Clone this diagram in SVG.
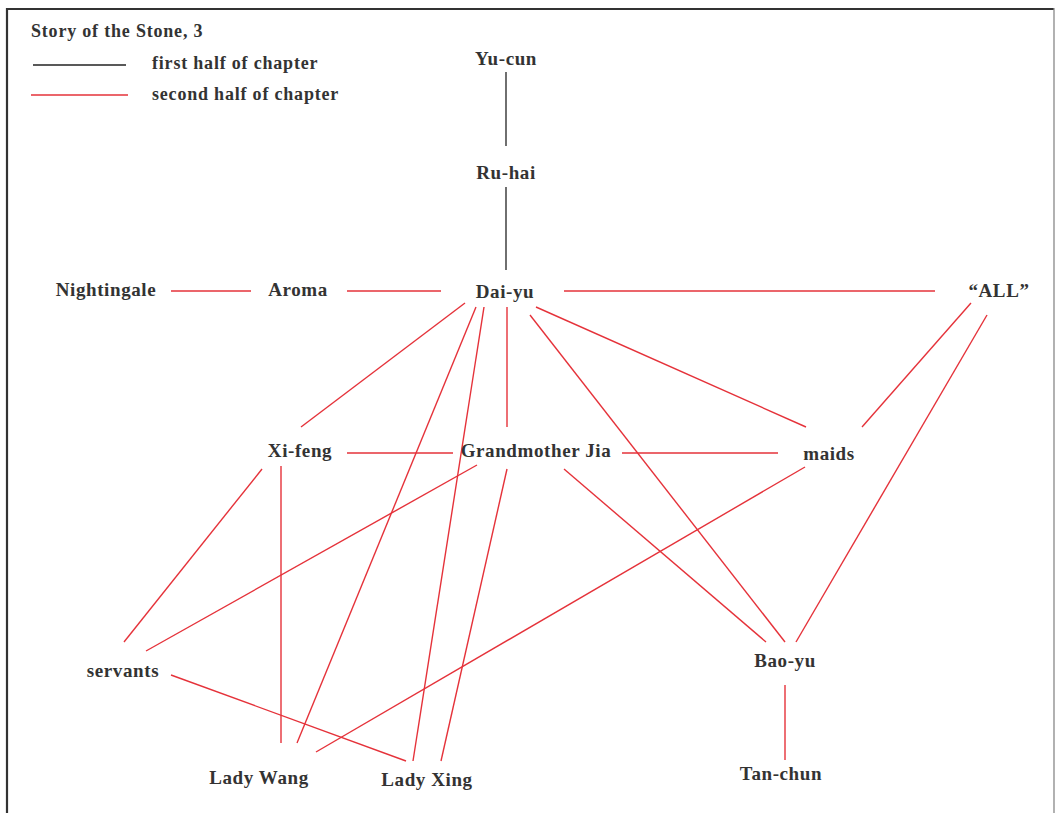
<svg xmlns="http://www.w3.org/2000/svg" width="1057" height="813" viewBox="0 0 1057 813">
<style>
text{font-family:"Liberation Serif","Times New Roman",serif;font-weight:bold;fill:#333}
.lbl{font-size:19px;text-anchor:middle;letter-spacing:0.6px}
.leg{font-size:18px;letter-spacing:0.8px}
.r{stroke:#e5323a;stroke-width:1.4;fill:none}
.k{stroke:#222;stroke-width:1.3;fill:none}
</style>
<rect width="1057" height="813" fill="#fff"/>
<g id="frame">
<line x1="7" y1="9" x2="1054" y2="9" stroke="#333" stroke-width="2.2"/>
<line x1="7" y1="8" x2="7" y2="813" stroke="#333" stroke-width="2.2"/>
<line x1="1054" y1="8" x2="1054" y2="813" stroke="#888" stroke-width="1.3"/>
</g>
<g id="legend">
<text class="leg" x="31" y="37">Story of the Stone, 3</text>
<line class="k" x1="33" y1="65" x2="126" y2="65"/>
<text class="leg" x="152" y="69">first half of chapter</text>
<line class="r" x1="31" y1="95" x2="128" y2="95"/>
<text class="leg" x="152" y="100">second half of chapter</text>
</g>
<g id="connectors">
<line class="k" x1="506" y1="72" x2="506" y2="146"/>
<line class="k" x1="506" y1="187" x2="506" y2="270"/>
<line class="r" x1="171" y1="291" x2="251" y2="291"/>
<line class="r" x1="347" y1="291" x2="441" y2="291"/>
<line class="r" x1="564" y1="291" x2="935" y2="291"/>
<line class="r" x1="465" y1="303" x2="301" y2="427"/>
<line class="r" x1="476" y1="307" x2="297" y2="743"/>
<line class="r" x1="484" y1="307" x2="413" y2="761"/>
<line class="r" x1="507" y1="307" x2="507" y2="427"/>
<line class="r" x1="536" y1="307" x2="806" y2="427"/>
<line class="r" x1="530" y1="315" x2="785" y2="642"/>
<line class="r" x1="971" y1="303" x2="862" y2="427"/>
<line class="r" x1="987" y1="315" x2="796" y2="642"/>
<line class="r" x1="347" y1="453" x2="453" y2="453"/>
<line class="r" x1="622" y1="453" x2="778" y2="453"/>
<line class="r" x1="262" y1="469" x2="124" y2="642"/>
<line class="r" x1="281" y1="466" x2="281" y2="743"/>
<line class="r" x1="477" y1="465" x2="146" y2="651"/>
<line class="r" x1="507" y1="469" x2="441" y2="761"/>
<line class="r" x1="564" y1="469" x2="766" y2="642"/>
<line class="r" x1="805" y1="467" x2="316" y2="752"/>
<line class="r" x1="171" y1="675" x2="406" y2="761"/>
<line class="r" x1="785" y1="685" x2="785" y2="760"/>
</g>
<g id="yu-cun"><text class="lbl" x="506" y="65">Yu-cun</text></g>
<g id="ru-hai"><text class="lbl" x="506" y="179">Ru-hai</text></g>
<g id="nightingale"><text class="lbl" x="106" y="296">Nightingale</text></g>
<g id="aroma"><text class="lbl" x="298" y="296">Aroma</text></g>
<g id="dai-yu"><text class="lbl" x="505" y="298">Dai-yu</text></g>
<g id="all"><text class="lbl" x="999" y="297">“ALL”</text></g>
<g id="xi-feng"><text class="lbl" x="300" y="457">Xi-feng</text></g>
<g id="grandmother-jia"><text class="lbl" x="536" y="457">Grandmother Jia</text></g>
<g id="maids"><text class="lbl" x="829" y="460">maids</text></g>
<g id="servants"><text class="lbl" x="123" y="677">servants</text></g>
<g id="bao-yu"><text class="lbl" x="785" y="667">Bao-yu</text></g>
<g id="tan-chun"><text class="lbl" x="781" y="780">Tan-chun</text></g>
<g id="lady-wang"><text class="lbl" x="259" y="784">Lady Wang</text></g>
<g id="lady-xing"><text class="lbl" x="427" y="786">Lady Xing</text></g>
</svg>
